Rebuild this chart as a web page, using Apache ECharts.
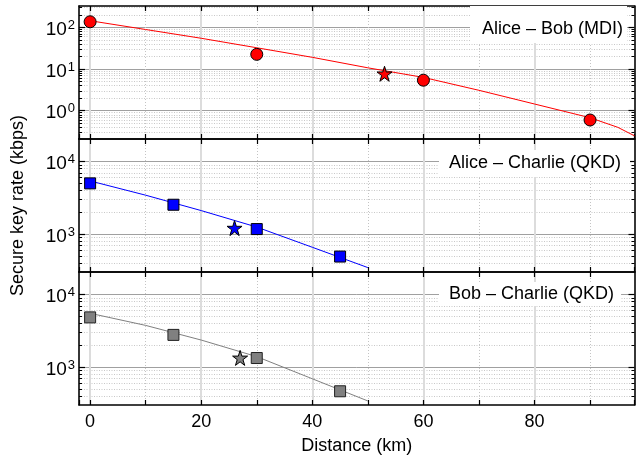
<!DOCTYPE html>
<html><head><meta charset="utf-8">
<script src="https://cdn.jsdelivr.net/npm/echarts@6/dist/echarts.min.js"></script>
<style>html,body{margin:0;padding:0;background:#fff}#c{width:636px;height:457px}</style>
</head><body><div id="c"></div>
<script>
const FONT = '"Liberation Sans", Arial, Helvetica, sans-serif';

// x axis ticks
const xTickLabels = [0, 20, 40, 60, 80];
const xMinorTicks = [10, 30, 50, 70, 90];
const xAllTicks = [0, 10, 20, 30, 40, 50, 60, 70, 80, 90];

// panel labels
const panelLabels = ['Alice – Bob (MDI)', 'Alice – Charlie (QKD)', 'Bob – Charlie (QKD)'];

// Alice-Bob (MDI)
const mdiCurveX = [0, 10, 20, 30, 40, 50, 60, 70, 80, 90, 95, 98];
const mdiCurveY = [144, 88.7, 54.7, 32.4, 19.1, 10.7, 6.3, 3.09, 1.45, 0.68, 0.40, 0.25];
const mdiPointX = [0, 30, 60, 90];
const mdiPointY = [136, 22.5, 5.4, 0.6];
const mdiStarX = [53];
const mdiStarY = [7.7];

// Alice-Charlie (QKD)
const acCurveX = [0, 10, 20, 30, 40, 50];
const acCurveY = [5410, 3440, 2110, 1250, 658, 345];
const acPointX = [0, 15, 30, 45];
const acPointY = [5010, 2540, 1173, 490];
const acStarX = [26];
const acStarY = [1210];

// Bob-Charlie (QKD)
const bcCurveX = [0, 10, 20, 30, 40, 50];
const bcCurveY = [5520, 3760, 2360, 1394, 690, 341];
const bcPointX = [0, 15, 30, 45];
const bcPointY = [4850, 2780, 1334, 464];
const bcStarX = [27];
const bcStarY = [1340];

// y axes
const yRanges = [[0.21, 325], [300, 20500], [300, 20500]];
const yMajor = [[1, 10, 100], [1000, 10000], [1000, 10000]];
const yMinor = [
  [0.3, 0.4, 0.5, 0.6, 0.7, 0.8, 0.9, 2, 3, 4, 5, 6, 7, 8, 9, 20, 30, 40, 50, 60, 70, 80, 90, 200, 300],
  [400, 500, 600, 700, 800, 900, 2000, 3000, 4000, 5000, 6000, 7000, 8000, 9000],
  [400, 500, 600, 700, 800, 900, 2000, 3000, 4000, 5000, 6000, 7000, 8000, 9000]
];

const STAR = 'path://M50,0L61.2,34.5L97.6,34.5L68.2,55.9L79.4,90.5L50,69.1L20.6,90.5L31.8,55.9L2.4,34.5L38.8,34.5Z';
const zip = (a, b) => a.map((v, i) => [v, b[i]]);

const panels = [
  {curve: zip(mdiCurveX, mdiCurveY), pts: zip(mdiPointX, mdiPointY), star: zip(mdiStarX, mdiStarY),
   color: '#ff0000', line: '#ff0000', border: '#000', symbol: 'circle', size: 12},
  {curve: zip(acCurveX, acCurveY), pts: zip(acPointX, acPointY), star: zip(acStarX, acStarY),
   color: '#0000ff', line: '#0000ff', border: '#000', symbol: 'rect', size: 11},
  {curve: zip(bcCurveX, bcCurveY), pts: zip(bcPointX, bcPointY), star: zip(bcStarX, bcStarY),
   color: '#808080', line: '#808080', border: '#222', symbol: 'rect', size: 11}
];

const tops = [6, 139, 272];
const H = 133;
const grid = [], xAxis = [], yAxis = [], series = [];
const axisLine = {show: true, onZero: false, lineStyle: {color: '#000', width: 1.5}};
const noLine = {show: false, onZero: false};

panels.forEach((p, g) => {
  grid.push({left: 79, right: 1.5, top: tops[g], height: H});
  const xBase = {type: 'value', gridIndex: g, min: -2, max: 98};
  // main bottom
  xAxis.push(Object.assign({}, xBase, {
    position: 'bottom',
    axisLine: axisLine,
    axisTick: {show: true, inside: true, length: 5, lineStyle: {color: '#000', width: 1.2}},
    axisLabel: {show: g === 2, customValues: xTickLabels, margin: 8, fontSize: 18, color: '#000', fontFamily: FONT},
    splitLine: {show: true, lineStyle: {color: '#dcdcdc', width: 2}},
    name: g === 2 ? 'Distance (km)' : '',
    nameLocation: 'middle', nameGap: 32,
    nameTextStyle: {fontSize: 18, color: '#000', fontFamily: FONT}
  }));
  // minor bottom
  xAxis.push(Object.assign({}, xBase, {
    position: 'bottom',
    axisLine: noLine,
    axisTick: {show: true, inside: true, length: 5, customValues: xMinorTicks, lineStyle: {color: '#000', width: 1.2}},
    axisLabel: {show: false},
    splitLine: {show: true, lineStyle: {color: '#c4c4c4', width: 1, type: [1, 2]}}
  }));
  // top
  xAxis.push(Object.assign({}, xBase, {
    position: 'top',
    axisLine: axisLine,
    axisTick: {show: true, inside: true, length: 5, customValues: xAllTicks, lineStyle: {color: '#000', width: 1.2}},
    axisLabel: {show: false},
    splitLine: {show: false}
  }));

  const yBase = {type: 'log', logBase: 10, gridIndex: g, min: yRanges[g][0], max: yRanges[g][1]};
  // main left
  yAxis.push(Object.assign({}, yBase, {
    position: 'left',
    axisLine: axisLine,
    axisTick: {show: true, inside: true, length: 6, customValues: yMajor[g], lineStyle: {color: '#000', width: 1.2}},
    axisLabel: {
      show: true, margin: 4, customValues: yMajor[g],
      formatter: v => '{b|10}{s|' + Math.round(Math.log10(v)) + '}',
      rich: {
        b: {fontSize: 19, color: '#000', fontFamily: FONT, padding: [5, 0, 0, 0]},
        s: {fontSize: 13, color: '#000', fontFamily: FONT, padding: [0, 0, 4, 1]}
      }
    },
    splitLine: {show: false},
    name: g === 1 ? 'Secure key rate (kbps)' : '',
    nameLocation: 'middle', nameGap: 52,
    nameTextStyle: {fontSize: 18, color: '#000', fontFamily: FONT}
  }));
  // minor ticks + minor grid lines (left, no line)
  yAxis.push(Object.assign({}, yBase, {
    position: 'left',
    axisLine: noLine,
    axisTick: {show: true, inside: true, length: 3, customValues: yMinor[g], lineStyle: {color: '#000', width: 1}},
    axisLabel: {show: false},
    splitLine: {show: true, lineStyle: {color: '#c8c8c8', width: 1, type: [1, 1.5]}}
  }));
  // right minor + frame
  yAxis.push(Object.assign({}, yBase, {
    position: 'right',
    axisLine: axisLine,
    axisTick: {show: true, inside: true, length: 3, customValues: yMinor[g], lineStyle: {color: '#000', width: 1}},
    axisLabel: {show: false},
    splitLine: {show: false}
  }));
  // right major + major grid lines
  yAxis.push(Object.assign({}, yBase, {
    position: 'right',
    axisLine: noLine,
    axisTick: {show: true, inside: true, length: 6, customValues: yMajor[g], lineStyle: {color: '#000', width: 1.2}},
    axisLabel: {show: false},
    splitLine: {show: true, lineStyle: {color: '#a0a0a0', width: 1}}
  }));

  series.push({
    type: 'line', xAxisIndex: 3 * g, yAxisIndex: 4 * g, data: p.curve,
    showSymbol: false, symbol: 'none', lineStyle: {color: p.line, width: 1}, z: 3, silent: true
  });
  series.push({
    type: 'scatter', xAxisIndex: 3 * g, yAxisIndex: 4 * g, data: p.pts,
    symbol: p.symbol, symbolSize: p.size,
    itemStyle: {color: p.color, borderColor: p.border, borderWidth: 1, opacity: 1}, z: 4, silent: true
  });
  series.push({
    type: 'scatter', xAxisIndex: 3 * g, yAxisIndex: 4 * g, data: p.star,
    symbol: STAR, symbolSize: 15,
    itemStyle: {color: p.color, borderColor: '#000', borderWidth: 1, opacity: 1}, z: 5, silent: true
  });
});

const titleStyle = {fontSize: 18, fontWeight: 'normal', color: '#000', fontFamily: FONT, lineHeight: 20};
const title = [
  {text: panelLabels[0], left: 470, top: 6, padding: [13, 4, 4, 12], backgroundColor: '#fff', textStyle: titleStyle},
  {text: panelLabels[1], left: 439, top: 150, padding: [3, 9, 4, 10], backgroundColor: '#fff', textStyle: titleStyle},
  {text: panelLabels[2], left: 439, top: 282, padding: [2, 7, 2, 10], backgroundColor: '#fff', textStyle: titleStyle}
];

const chart = echarts.init(document.getElementById('c'), null, {renderer: 'canvas'});
chart.setOption({animation: false, backgroundColor: '#fff', title, grid, xAxis, yAxis, series});
</script></body></html>
